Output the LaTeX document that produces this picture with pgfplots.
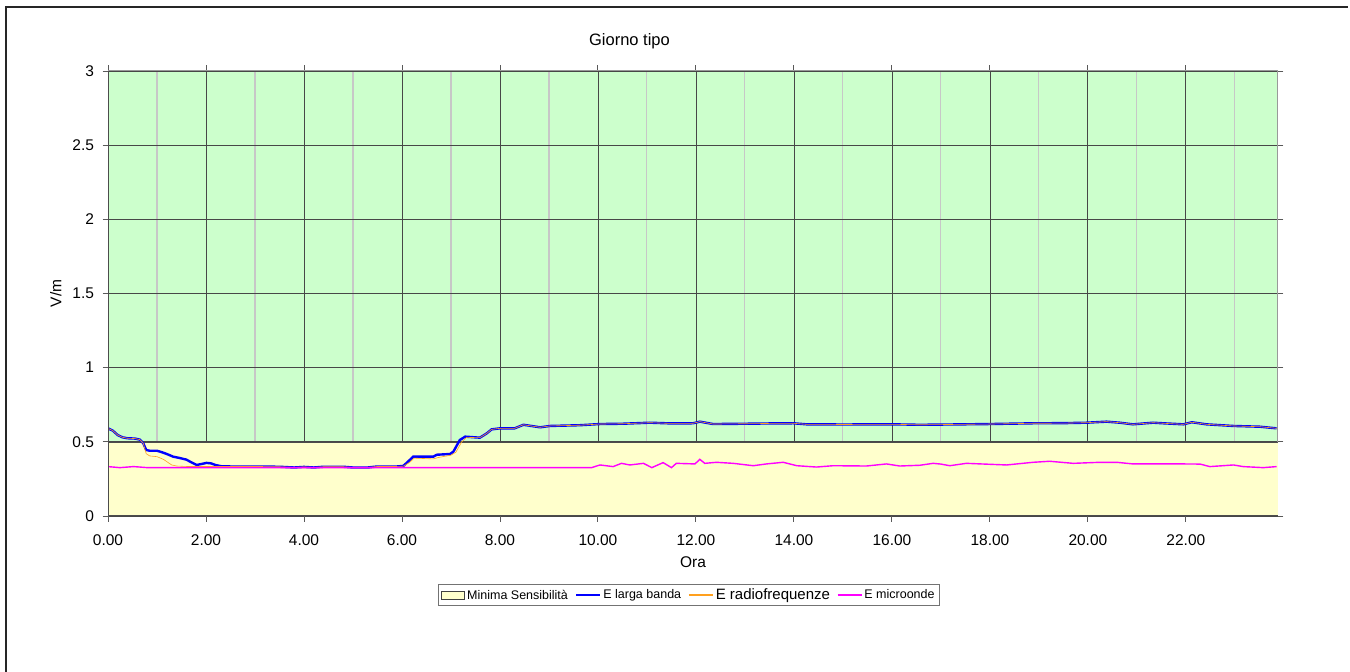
\documentclass[border=0pt]{standalone}
\usepackage{pgfplots}
\pgfplotsset{compat=1.18}
\usepackage{fontspec}
\setmainfont{Liberation Sans}
\definecolor{bggreen}{RGB}{204,255,204}
\definecolor{areayel}{RGB}{255,255,204}
\definecolor{eblue}{RGB}{0,0,255}
\definecolor{eorange}{RGB}{255,160,30}
\definecolor{emag}{RGB}{255,0,255}
\begin{document}
\begin{tikzpicture}
\path[use as bounding box] (0pt,0pt) rectangle (1350pt,672pt);
\draw[line width=2pt, black!85] (6pt,0pt) -- (6pt,665pt) -- (1348pt,665pt);
\node[font=\fontsize{16.5}{18}\selectfont] at (629.5pt,631pt) {Giorno tipo};
\begin{axis}[
  at={(108pt,156pt)}, anchor=south west,
  scale only axis, width=1170pt, height=445pt,
  xmin=0, xmax=23.88, ymin=0, ymax=3,
  axis background/.style={fill=bggreen},
  axis line style={draw=black!40, line width=1pt},
  xtick={0,2,...,22}, minor xtick={1,3,...,23},
  ytick={0,0.5,...,3},
  xmajorgrids, xminorgrids, ymajorgrids,
  major grid style={draw=black!72, line width=0.8pt},
  minor grid style={draw=black!22, line width=1.1pt},
  tick align=outside, major tick length=5.5pt, minor tick length=0pt,
  tick style={draw=black!65, line width=0.9pt},
  xticklabel={\pgfmathprintnumber[fixed,fixed zerofill,precision=2]{\tick}},
  /pgf/number format/assume math mode=true,
  ticklabel style={font=\fontsize{15.5}{17}\selectfont},
  xticklabel style={yshift=-10pt},
  yticklabel style={xshift=-5pt},
  xlabel={Ora}, ylabel={V/m},
  label style={font=\fontsize{15.5}{17}\selectfont},
  xlabel style={at={(axis description cs:0.5,0)}, anchor=center, yshift=-46pt},
  ylabel style={at={(axis description cs:-0.0445,0.5)}, anchor=center},
  legend columns=4,
  legend style={at={(0.4966,-0.1528)}, anchor=north, draw=black!55, line width=1pt,
    font=\fontsize{12.5}{14}\selectfont, /tikz/every even column/.append style={column sep=5pt},
    inner ysep=2.5pt, inner xsep=3pt},
]
\addplot[fill=areayel, draw=black!70, line width=0.6pt,
  legend image code/.code={\draw[fill=areayel,draw=black!75,line width=0.8pt] (0pt,-4pt) rectangle (23pt,4pt);}]
  coordinates {(0,0.5) (23.88,0.5)} \closedcycle;
\addlegendentry{Minima Sensibilità}
\addplot[color=eblue, line width=2.4pt,
  legend image code/.code={\draw[color=eblue,line width=2.4pt] (0pt,0pt) -- (24pt,0pt);}] coordinates {
(0.00,0.591)(0.10,0.575)(0.20,0.545)(0.30,0.530)(0.40,0.524)(0.55,0.522)(0.65,0.515)(0.72,0.49)(0.78,0.445)(0.85,0.44)(1.00,0.44)(1.10,0.43)(1.20,0.418)(1.33,0.400)(1.45,0.392)(1.60,0.380)(1.70,0.362)(1.81,0.344)(1.90,0.350)(2.01,0.358)(2.10,0.355)(2.20,0.343)(2.32,0.335)(2.5,0.334)(3.0,0.334)(3.5,0.332)(3.8,0.327)(4.0,0.331)(4.2,0.327)(4.4,0.332)(4.8,0.332)(5.0,0.327)(5.3,0.327)(5.5,0.334)(5.9,0.334)(6.03,0.338)(6.15,0.375)(6.23,0.40)(6.64,0.40)(6.71,0.413)(6.98,0.418)(7.05,0.434)(7.18,0.512)(7.29,0.535)(7.59,0.528)(7.73,0.557)(7.83,0.584)(8.00,0.591)(8.30,0.591)(8.48,0.615)(8.82,0.598)(9.02,0.607)(9.63,0.612)(10.04,0.620)(10.5,0.622)(11.06,0.629)(11.5,0.624)(11.94,0.625)(12.08,0.636)(12.35,0.620)(13.0,0.622)(13.5,0.624)(13.99,0.625)(14.26,0.618)(15.0,0.617)(16.03,0.618)(16.57,0.615)(17.2,0.617)(18.0,0.620)(18.88,0.625)(19.5,0.626)(19.97,0.629)(20.38,0.636)(20.65,0.629)(20.92,0.618)(21.33,0.629)(21.54,0.625)(21.95,0.618)(22.12,0.632)(22.42,0.618)(22.97,0.607)(23.51,0.602)(23.85,0.591)};
\addlegendentry{E larga banda}
\addplot[color=eorange, line width=0.6pt,
  legend image code/.code={\draw[draw={rgb,255:red,255;green,160;blue,30},line width=1.6pt] (0pt,0pt) -- (24pt,0pt);}] coordinates {
(0.00,0.591)(0.10,0.575)(0.20,0.545)(0.30,0.530)(0.40,0.524)(0.55,0.522)(0.65,0.515)(0.72,0.49)(0.78,0.42)(0.85,0.405)(1.00,0.400)(1.13,0.382)(1.30,0.344)(1.40,0.337)(1.60,0.334)(2.5,0.334)(3.0,0.334)(3.5,0.332)(3.8,0.327)(4.0,0.331)(4.2,0.327)(4.4,0.332)(4.8,0.332)(5.0,0.327)(5.3,0.327)(5.5,0.334)(5.9,0.334)(6.03,0.336)(6.15,0.36)(6.25,0.39)(6.64,0.385)(6.75,0.395)(7.0,0.41)(7.1,0.43)(7.22,0.5)(7.32,0.53)(7.59,0.528)(7.73,0.557)(7.83,0.584)(8.00,0.591)(8.30,0.591)(8.48,0.615)(8.82,0.598)(9.02,0.607)(9.63,0.612)(10.04,0.620)(10.5,0.622)(11.06,0.629)(11.5,0.624)(11.94,0.625)(12.08,0.636)(12.35,0.620)(13.0,0.622)(13.5,0.624)(13.99,0.625)(14.26,0.618)(15.0,0.617)(16.03,0.618)(16.57,0.615)(17.2,0.617)(18.0,0.620)(18.88,0.625)(19.5,0.626)(19.97,0.629)(20.38,0.636)(20.65,0.629)(20.92,0.618)(21.33,0.629)(21.54,0.625)(21.95,0.618)(22.12,0.632)(22.42,0.618)(22.97,0.607)(23.51,0.602)(23.85,0.591)};
\addlegendentry{\fontsize{15}{16}\selectfont E radiofrequenze}
\addplot[color=emag, line width=1.4pt,
  legend image code/.code={\draw[color=emag,line width=1.4pt] (0pt,0pt) -- (24pt,0pt);}] coordinates {
(0,0.333)(0.24,0.326)(0.52,0.333)(0.65,0.330)(0.8,0.326)(9.22,0.326)(9.87,0.326)(10.04,0.344)(10.31,0.333)(10.48,0.355)(10.65,0.344)(10.93,0.355)(11.1,0.326)(11.33,0.36)(11.5,0.326)(11.6,0.355)(11.98,0.351)(12.08,0.382)(12.18,0.355)(12.42,0.362)(12.76,0.355)(13.17,0.339)(13.44,0.351)(13.78,0.362)(14.06,0.339)(14.46,0.330)(14.8,0.339)(15.48,0.337)(15.89,0.351)(16.16,0.337)(16.57,0.342)(16.84,0.355)(17.0,0.350)(17.18,0.339)(17.52,0.355)(18.34,0.344)(18.88,0.362)(19.22,0.369)(19.7,0.355)(20.24,0.362)(20.59,0.362)(20.92,0.351)(21.95,0.351)(22.29,0.350)(22.49,0.333)(22.97,0.344)(23.17,0.333)(23.58,0.326)(23.85,0.333)};
\addlegendentry{E microonde}
\draw[black!70, line width=1pt] (rel axis cs:0,1) -- (rel axis cs:0,0) -- (rel axis cs:1,0);
\end{axis}
\end{tikzpicture}
\end{document}
